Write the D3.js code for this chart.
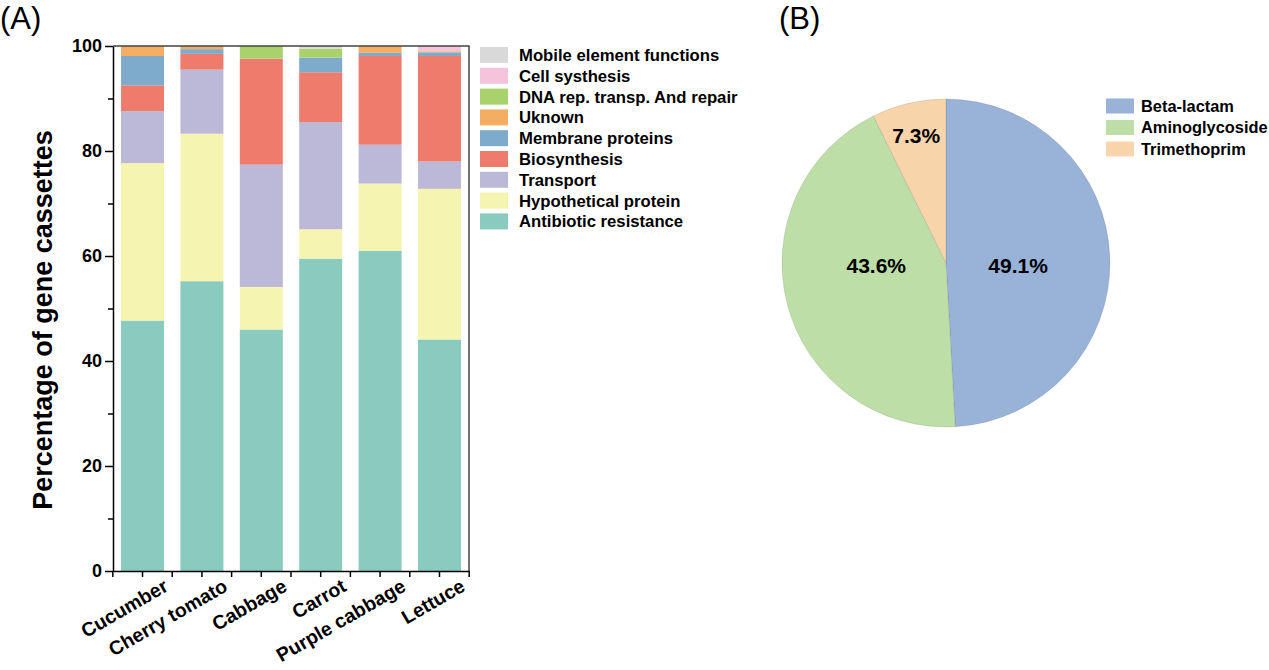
<!DOCTYPE html>
<html lang="en">
    <head>
        <meta charset="utf-8">
        <title>D3</title>
        <script type="text/javascript" src="https://cdnjs.cloudflare.com/ajax/libs/d3/7.8.5/d3.min.js"></script>
        <style type="text/css">
            body { margin: 0; background: #fff; }
            text { font-family: Arial, "Liberation Sans", sans-serif; }
        </style>
    </head>
    <body>
        <script type="text/javascript">
            var w = 1269;
            var h = 670;

            // panel A data (percent of gene cassettes)
            var categories = ["Cucumber", "Cherry tomato", "Cabbage", "Carrot", "Purple cabbage", "Lettuce"];
            var antibiotic   = [47.7, 55.2, 46.0, 59.5, 61.0, 44.1];
            var hypothetical = [30.0, 28.1,  8.1,  5.6, 12.8, 28.7];
            var transport    = [ 9.9, 12.2, 23.3, 20.4,  7.4,  5.2];
            var biosynthesis = [ 4.9,  3.0, 20.2,  9.5, 16.9, 20.1];
            var membrane     = [ 5.6,  0.9,  0.0,  2.8,  0.6,  0.7];
            var unknown      = [ 1.9,  0.6,  0.0,  0.0,  1.3,  0.2];
            var dnaRepair    = [ 0.0,  0.0,  2.4,  1.7,  0.0,  0.0];
            var cellSynth    = [ 0.0,  0.0,  0.0,  0.0,  0.0,  1.0];
            var mobile       = [ 0.0,  0.0,  0.0,  0.5,  0.0,  0.0];
            var yTicks = [0, 20, 40, 60, 80, 100];

            // panel B data
            var pieLabels = ["Beta-lactam", "Aminoglycoside", "Trimethoprim"];
            var pieValues = [49.1, 43.6, 7.3];

            var series = [
                {name: "Antibiotic resistance", values: antibiotic, color: "#89cbbe"},
                {name: "Hypothetical protein", values: hypothetical, color: "#f5f4b1"},
                {name: "Transport", values: transport, color: "#bcb8d7"},
                {name: "Biosynthesis", values: biosynthesis, color: "#ee7c6d"},
                {name: "Membrane proteins", values: membrane, color: "#7eaacc"},
                {name: "Uknown", values: unknown, color: "#f3ae63"},
                {name: "DNA rep. transp. And repair", values: dnaRepair, color: "#aad26c"},
                {name: "Cell systhesis", values: cellSynth, color: "#f5c4db"},
                {name: "Mobile element functions", values: mobile, color: "#d9d9d9"}
            ];
            var pieColors = ["#98b2d8", "#bddea6", "#f8d4aa"];

            var svg = d3.select("body")
                        .append("svg")
                        .attr("width", w)
                        .attr("height", h);

            svg.append("rect").attr("width", w).attr("height", h).attr("fill", "#fff");

            // ---------- (A) stacked bars ----------
            var pL = 113, pR = 469, pT = 46, pB = 571;

            var x = d3.scaleBand()
                      .domain(categories)
                      .range([pL, pR])
                      .paddingInner(0.276)
                      .paddingOuter(0.135);

            var y = d3.scaleLinear()
                      .domain([0, 100])
                      .range([pB, pT]);

            var rows = categories.map(function (c, i) {
                var r = {cat: c};
                series.forEach(function (s) { r[s.name] = s.values[i]; });
                return r;
            });

            var stack = d3.stack().keys(series.map(function (s) { return s.name; }));
            var layers = stack(rows);

            svg.append("g")
               .selectAll("g")
               .data(layers)
               .enter()
               .append("g")
               .attr("fill", function (d, i) { return series[i].color; })
               .selectAll("rect")
               .data(function (d) { return d; })
               .enter()
               .append("rect")
               .attr("x", function (d) { return x(d.data.cat); })
               .attr("width", x.bandwidth())
               .attr("y", function (d) { return y(d[1]); })
               .attr("height", function (d) { return y(d[0]) - y(d[1]); });

            // frame: top and right
            svg.append("path")
               .attr("d", "M" + pL + "," + pT + "H" + pR + "V" + pB)
               .attr("fill", "none")
               .attr("stroke", "#444")
               .attr("stroke-width", 1.5);

            // y axis
            var yAxis = svg.append("g")
               .attr("transform", "translate(" + pL + ",0)")
               .call(d3.axisLeft(y).tickValues(yTicks).tickSize(8).tickPadding(3).tickSizeOuter(0));
            yAxis.selectAll("text")
                 .attr("font-size", 18)
                 .attr("font-weight", "bold")
                 .attr("fill", "#000")
                 .attr("font-family", "Arial, 'Liberation Sans', sans-serif");

            svg.append("g")
               .attr("transform", "translate(" + pL + ",0)")
               .call(d3.axisLeft(y).tickValues([10, 30, 50, 70, 90]).tickSize(5).tickFormat("").tickSizeOuter(0))
               .select(".domain").remove();

            svg.selectAll(".domain, .tick line").attr("stroke", "#000").attr("stroke-width", 1.5);

            // x axis
            var xAxis = svg.append("g")
               .attr("transform", "translate(0," + pB + ")")
               .call(d3.axisBottom(x).tickSize(6).tickSizeOuter(0).tickFormat(""));
            xAxis.selectAll(".domain, line").attr("stroke", "#000").attr("stroke-width", 1.5);

            // boundary ticks between bars
            var step = x.step();
            var bounds = categories.map(function (c) { return x(c) + x.bandwidth() / 2 + step / 2; });
            bounds.unshift(x(categories[0]) + x.bandwidth() / 2 - step / 2);
            svg.append("g")
               .selectAll("line")
               .data(bounds)
               .enter()
               .append("line")
               .attr("x1", function (d) { return d; })
               .attr("x2", function (d) { return d; })
               .attr("y1", pB)
               .attr("y2", pB + 6)
               .attr("stroke", "#000")
               .attr("stroke-width", 1.5);

            svg.append("g")
               .selectAll("text")
               .data(categories)
               .enter()
               .append("text")
               .attr("transform", function (d) {
                   return "translate(" + (x(d) + x.bandwidth() / 2 + 27) + "," + (pB + 19) + ") rotate(-30)";
               })
               .attr("text-anchor", "end")
               .attr("font-size", 19.5)
               .attr("font-weight", "bold")
               .text(function (d) { return d; });

            svg.append("text")
               .attr("transform", "translate(52,320) rotate(-90)")
               .attr("text-anchor", "middle")
               .attr("font-size", 27)
               .attr("font-weight", "bold")
               .text("Percentage of gene cassettes");

            // legend A (top entry = last series)
            var legA = svg.append("g")
               .selectAll("g")
               .data(series.slice().reverse())
               .enter()
               .append("g")
               .attr("transform", function (d, i) { return "translate(480," + (55 + i * 20.8) + ")"; });
            legA.append("rect")
                .attr("y", -8)
                .attr("width", 28)
                .attr("height", 16)
                .attr("fill", function (d) { return d.color; });
            legA.append("text")
                .attr("x", 39)
                .attr("dy", "0.36em")
                .attr("font-size", 16.7)
                .attr("font-weight", "bold")
                .text(function (d) { return d.name; });

            svg.append("text")
               .attr("x", 0)
               .attr("y", 29)
               .attr("font-size", 31)
               .text("(A)");

            // ---------- (B) pie ----------
            var cx = 946, cy = 263, r = 164;
            var pie = d3.pie().sort(null).value(function (d) { return d; });
            var arcs = pie(pieValues);
            var arc = d3.arc().innerRadius(0).outerRadius(r);

            var pg = svg.append("g").attr("transform", "translate(" + cx + "," + cy + ")");
            pg.selectAll("path")
              .data(arcs)
              .enter()
              .append("path")
              .attr("d", arc)
              .attr("fill", function (d, i) { return pieColors[i]; })
              .attr("stroke", "rgba(0,0,0,0.12)")
              .attr("stroke-width", 0.8);

            // large slices: label on the horizontal through the centre
            pg.selectAll("text")
              .data(arcs)
              .enter()
              .append("text")
              .attr("transform", function (d) {
                  var big = d.data > 15;
                  var lr = (big ? 0.44 : 0.8) * r;
                  var c = d3.arc().innerRadius(lr).outerRadius(lr).centroid(d);
                  return "translate(" + c[0] + "," + (big ? 2 : c[1]) + ")";
              })
              .attr("text-anchor", "middle")
              .attr("dy", "0.36em")
              .attr("font-size", 21)
              .attr("font-weight", "bold")
              .text(function (d) { return d.data.toFixed(1) + "%"; });

            var legB = svg.append("g")
               .selectAll("g")
               .data(pieLabels)
               .enter()
               .append("g")
               .attr("transform", function (d, i) { return "translate(1106," + (106 + i * 21.5) + ")"; });
            legB.append("rect")
                .attr("y", -7.5)
                .attr("width", 28)
                .attr("height", 15)
                .attr("fill", function (d, i) { return pieColors[i]; });
            legB.append("text")
                .attr("x", 35)
                .attr("dy", "0.36em")
                .attr("font-size", 16.4)
                .attr("font-weight", "bold")
                .text(function (d) { return d; });

            svg.append("text")
               .attr("x", 779)
               .attr("y", 29)
               .attr("font-size", 31)
               .text("(B)");
        </script>
    </body>
</html>
